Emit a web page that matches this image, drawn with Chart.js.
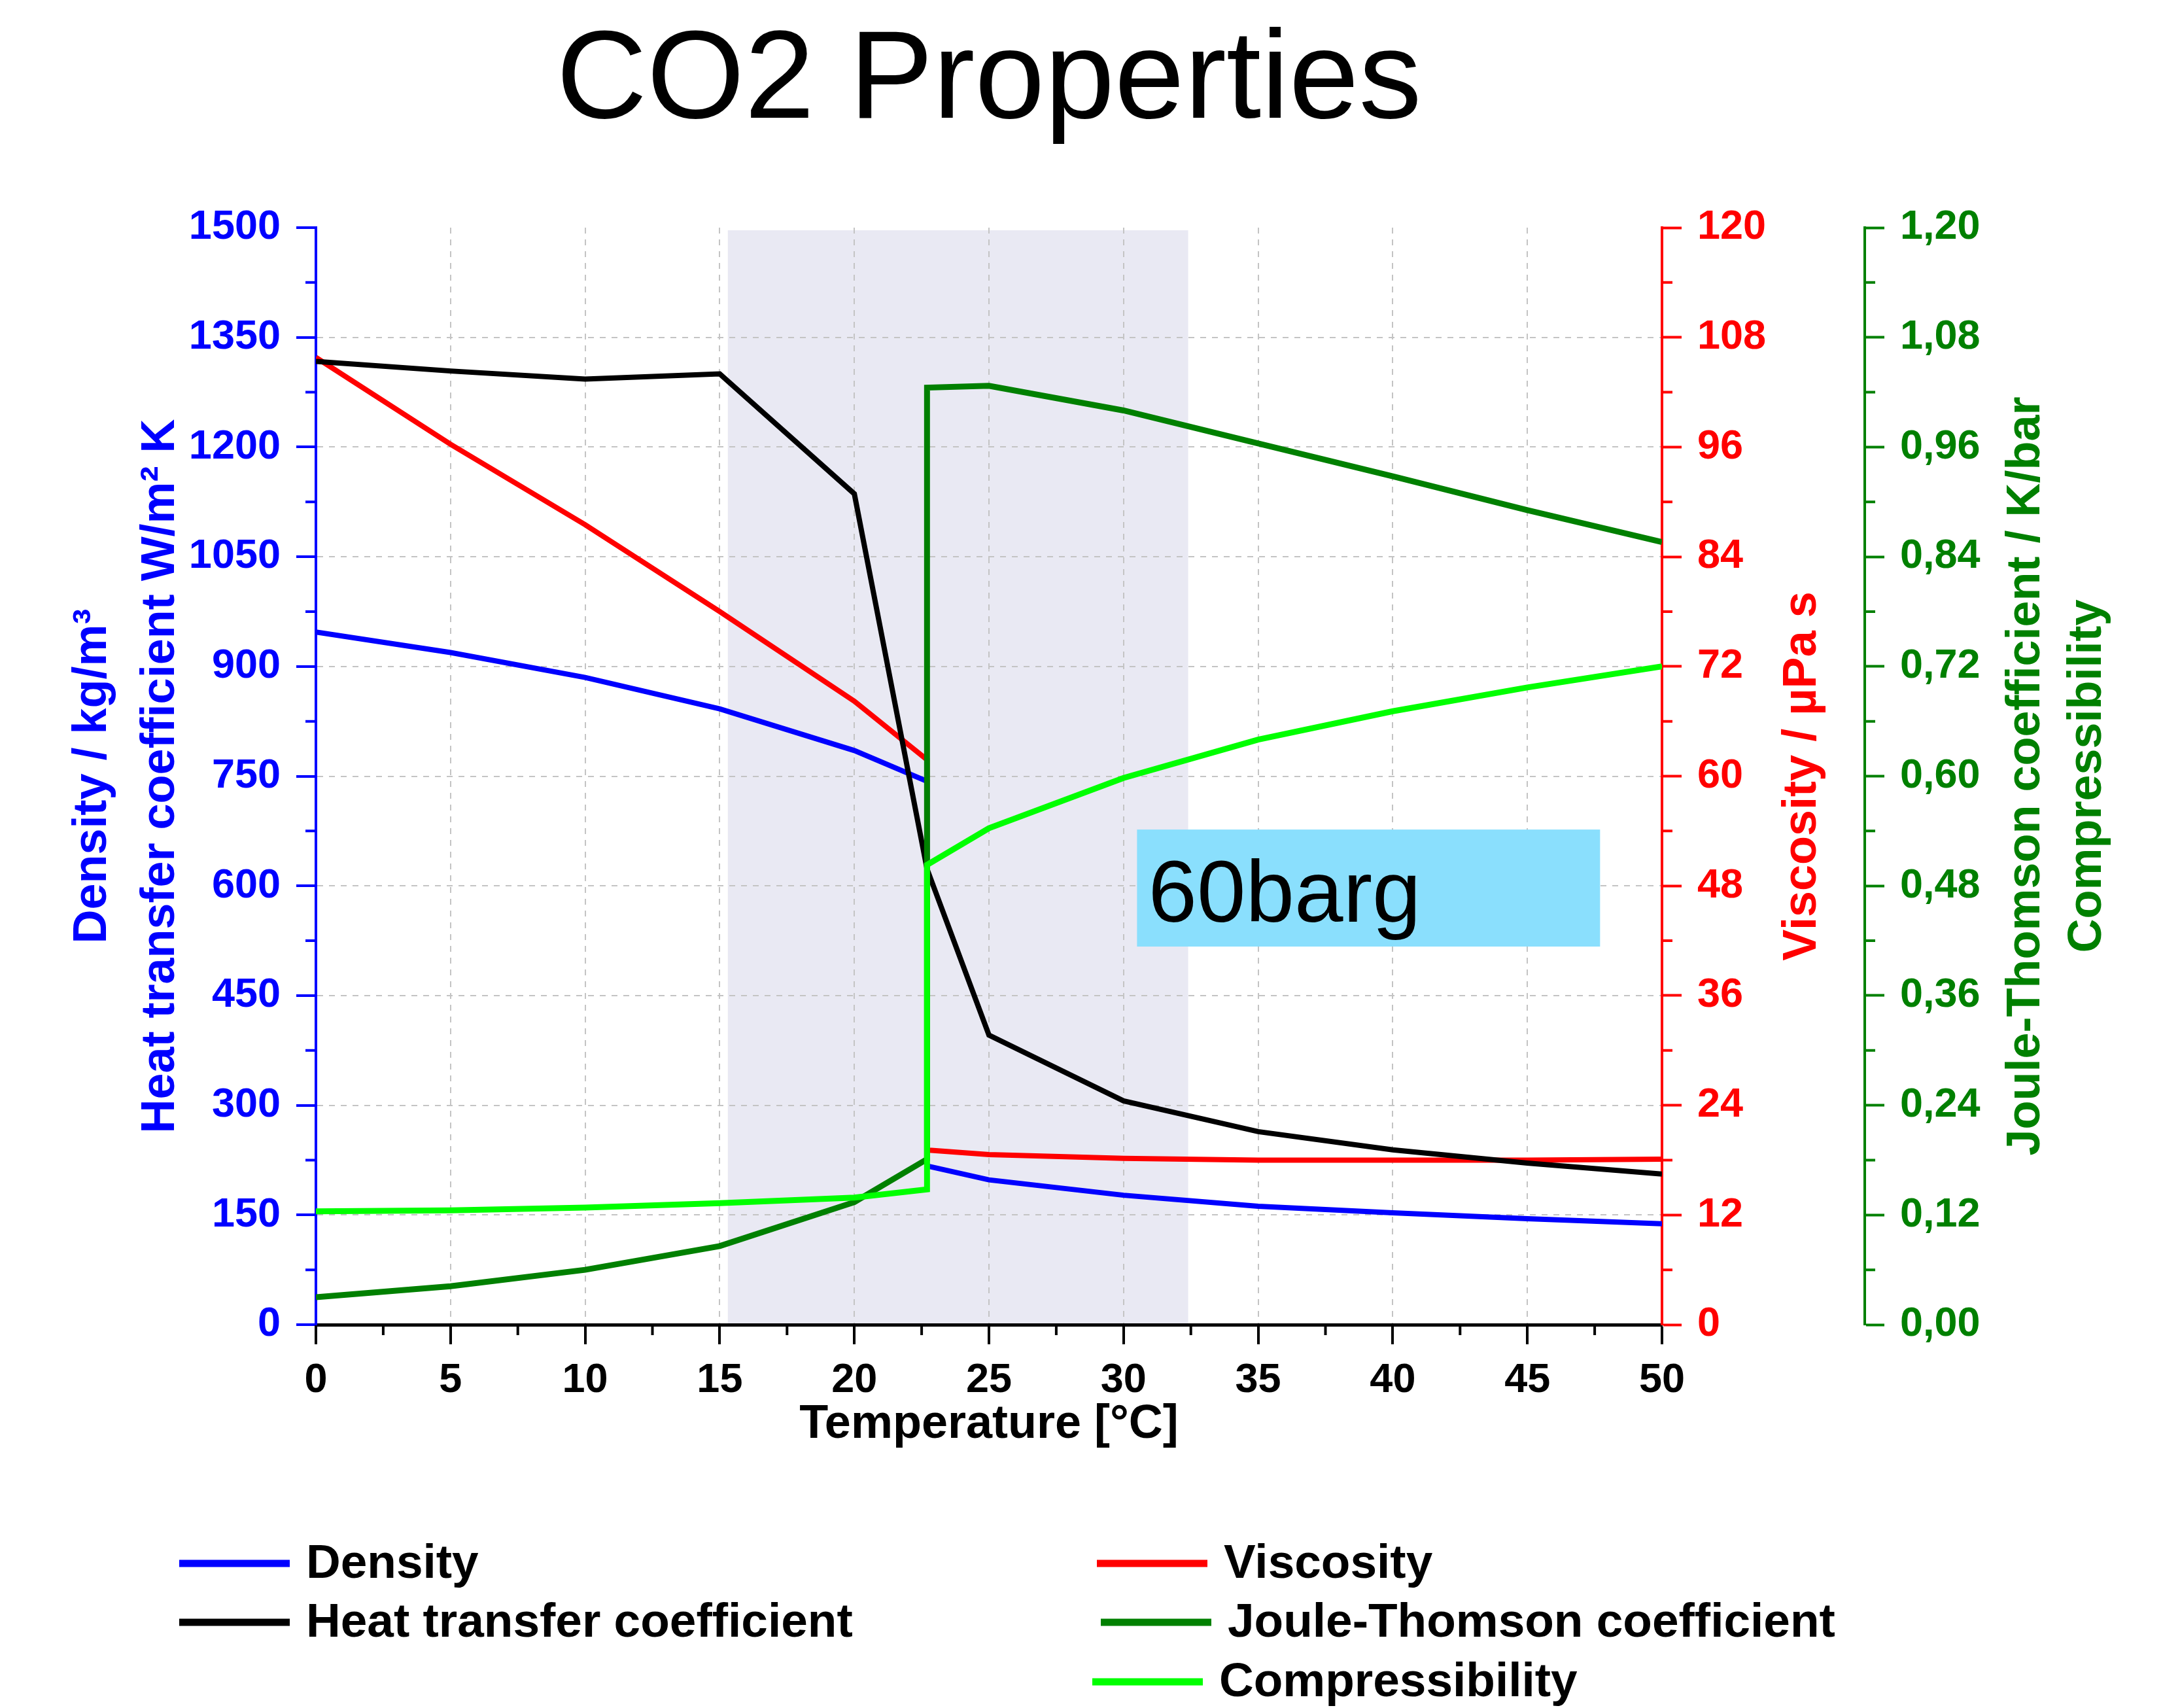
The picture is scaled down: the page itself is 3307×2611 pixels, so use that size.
<!DOCTYPE html>
<html>
<head>
<meta charset="utf-8">
<title>CO2 Properties</title>
<script src="https://cdn.jsdelivr.net/npm/chart.js@4.4.1/dist/chart.umd.min.js"></script>
<style>
  html, body { margin: 0; padding: 0; background: #fff; }
  #wrap { width: 3307px; height: 2611px; position: relative; }
</style>
</head>
<body>
<div id="wrap"><canvas id="co2Chart"></canvas></div>
<script>
// temperatures in °C; 22.7 appears twice for the liquid/vapour jump
const temperature = [0, 5, 10, 15, 20, 22.7, 22.7, 25, 30, 35, 40, 45, 50];
const density = [947, 919, 885, 842, 785, 743, 217, 198, 177, 162, 153, 145, 138];
const heatTransfer = [1317, 1304, 1293, 1300, 1136, 623, 623, 396, 306, 264, 239, 221, 206];
const viscosity = [105.8, 96.3, 87.5, 78.0, 68.2, 61.8, 19.1, 18.6, 18.2, 18.0, 18.0, 18.0, 18.1];
const jouleThomson = [0.030, 0.042, 0.060, 0.086, 0.134, 0.181, 1.025, 1.027, 1.000, 0.964, 0.928, 0.891, 0.856];
const compressibility = [0.124, 0.125, 0.128, 0.133, 0.139, 0.148, 0.503, 0.543, 0.598, 0.640, 0.671, 0.697, 0.720];

// shaded temperature band and the pressure note box
const shadeRange = [15.3, 32.4];
const noteBox = { x: [30.5, 47.7], y: [517, 677], text: '60barg' };

const FONT = '"Liberation Sans", Arial, Helvetica, sans-serif';
const BLUE = '#0000FF', RED = '#FF0000', GREEN = '#008000', LIME = '#00FF00';

const toPoints = (ys) => temperature.map((t, i) => ({ x: t, y: ys[i] }));

function minorValues(min, max, step) {
    const out = [];
    for (let v = min + step / 2; v < max; v += step) out.push(v);
    return out;
}

const overlay = {
    id: 'overlay',
    beforeDraw(chart) {
        const { ctx, chartArea, scales } = chart;
        const x1 = scales.x.getPixelForValue(shadeRange[0]);
        const x2 = scales.x.getPixelForValue(shadeRange[1]);
        ctx.save();
        ctx.fillStyle = '#E9E9F3';
        ctx.fillRect(x1, chartArea.top + 4, x2 - x1, chartArea.bottom - chartArea.top - 4);
        ctx.restore();
    },
    beforeDatasetsDraw(chart) {
        const { ctx, scales } = chart;
        const bx1 = scales.x.getPixelForValue(noteBox.x[0]);
        const bx2 = scales.x.getPixelForValue(noteBox.x[1]);
        const by1 = scales.y.getPixelForValue(noteBox.y[1]);
        const by2 = scales.y.getPixelForValue(noteBox.y[0]);
        ctx.save();
        ctx.fillStyle = '#8ADFFD';
        ctx.fillRect(bx1, by1, bx2 - bx1, by2 - by1);
        ctx.fillStyle = '#000';
        ctx.font = '134px ' + FONT;
        ctx.textAlign = 'left';
        ctx.textBaseline = 'alphabetic';
        ctx.fillText(noteBox.text, bx1 + 17, by1 + 141);
        ctx.restore();
    },
    afterDraw(chart) {
        const { ctx, chartArea, scales } = chart;
        const cx = (chartArea.left + chartArea.right) / 2;
        const cy = (chartArea.top + chartArea.bottom) / 2;
        ctx.save();

        // minor ticks
        ctx.lineWidth = 4;
        const minor = (scale, vals, color, side) => {
            ctx.strokeStyle = color;
            ctx.beginPath();
            vals.forEach(v => {
                const p = scale.getPixelForValue(v);
                if (side === 'left') { ctx.moveTo(scale.right - 16, p); ctx.lineTo(scale.right, p); }
                else if (side === 'right') { ctx.moveTo(scale.left, p); ctx.lineTo(scale.left + 16, p); }
                else { ctx.moveTo(p, scale.top); ctx.lineTo(p, scale.top + 16); }
            });
            ctx.stroke();
        };
        minor(scales.x, minorValues(0, 50, 5), '#000', 'bottom');
        minor(scales.y, minorValues(0, 1500, 150), BLUE, 'left');
        minor(scales.y1, minorValues(0, 120, 12), RED, 'right');
        minor(scales.y2, minorValues(0, 1.2, 0.12), GREEN, 'right');

        // title
        ctx.fillStyle = '#000';
        ctx.font = '192px ' + FONT;
        ctx.textAlign = 'center';
        ctx.textBaseline = 'alphabetic';
        ctx.fillText('CO2 Properties', cx, 180);

        // axis titles
        ctx.font = 'bold 72px ' + FONT;
        ctx.textBaseline = 'middle';
        ctx.fillText('Temperature [°C]', cx, 2178);
        const vtitle = (text, x, color) => {
            ctx.save();
            ctx.translate(x, cy);
            ctx.rotate(-Math.PI / 2);
            ctx.fillStyle = color;
            ctx.fillText(text, 0, 0);
            ctx.restore();
        };
        vtitle('Density / kg/m³', 142, BLUE);
        vtitle('Heat transfer coefficient W/m² K', 246, BLUE);
        vtitle('Viscosity / µPa s', 2756, RED);
        vtitle('Joule-Thomson coefficient / K/bar', 3098, GREEN);
        vtitle('Compressibility', 3192, GREEN);

        // legend, two columns
        const spots = [[274, 2390], [1677, 2390], [274, 2480], [1683, 2480], [1670, 2571]];
        ctx.font = 'bold 73px ' + FONT;
        ctx.textAlign = 'left';
        chart.data.datasets.forEach((ds, i) => {
            const [lx, ly] = spots[i];
            ctx.strokeStyle = ds.borderColor;
            ctx.lineWidth = 11;
            ctx.beginPath();
            ctx.moveTo(lx, ly);
            ctx.lineTo(lx + 169, ly);
            ctx.stroke();
            ctx.fillStyle = '#000';
            ctx.fillText(ds.label, lx + 194, ly + 2);
        });
        ctx.restore();
    }
};

const lineDefaults = { pointRadius: 0, borderWidth: 8, tension: 0, fill: false };
const tickFont = { family: FONT, size: 63, weight: 'bold' };

new Chart(document.getElementById('co2Chart'), {
    type: 'line',
    data: {
        datasets: [
            { ...lineDefaults, label: 'Density', data: toPoints(density), borderColor: BLUE, yAxisID: 'y', order: 3 },
            { ...lineDefaults, label: 'Viscosity', data: toPoints(viscosity), borderColor: RED, yAxisID: 'y1', order: 4 },
            { ...lineDefaults, label: 'Heat transfer coefficient', data: toPoints(heatTransfer), borderColor: '#000000', yAxisID: 'y', order: 2 },
            { ...lineDefaults, label: 'Joule-Thomson coefficient', data: toPoints(jouleThomson), borderColor: GREEN, yAxisID: 'y2', order: 1, borderWidth: 9 },
            { ...lineDefaults, label: 'Compressibility', data: toPoints(compressibility), borderColor: LIME, yAxisID: 'y2', order: 0, borderWidth: 9 }
        ]
    },
    options: {
        responsive: true,
        maintainAspectRatio: false,
        devicePixelRatio: 1,
        animation: false,
        layout: { padding: { top: 348, bottom: 406, left: 0, right: 0 } },
        plugins: {
            legend: { display: false },
            title: { display: false },
            tooltip: { enabled: false }
        },
        scales: {
            x: {
                type: 'linear',
                min: 0,
                max: 50,
                afterFit: (s) => { s.height = 180; },
                ticks: { stepSize: 5, color: '#000', padding: 18, font: tickFont, maxRotation: 0, callback: (v) => String(v) },
                grid: { color: (c) => (c.tick && (c.tick.value === 0 || c.tick.value === 50)) ? 'transparent' : '#C4C4C4', lineWidth: 2, tickColor: '#000', tickLength: 30, tickWidth: 4 },
                border: { color: '#000', width: 5, dash: [9, 9] }
            },
            y: {
                position: 'left',
                min: 0,
                max: 1500,
                afterFit: (s) => { s.width = 483; },
                ticks: { stepSize: 150, color: BLUE, padding: 24, font: tickFont, callback: (v) => String(v) },
                grid: { color: (c) => (c.tick && (c.tick.value === 0 || c.tick.value === 1500)) ? 'transparent' : '#C4C4C4', lineWidth: 2, tickColor: BLUE, tickLength: 30, tickWidth: 4 },
                border: { color: BLUE, width: 4, dash: [9, 9] }
            },
            y1: {
                position: 'right',
                min: 0,
                max: 120,
                afterFit: (s) => { s.width = 310; },
                ticks: { stepSize: 12, color: RED, padding: 24, font: tickFont, callback: (v) => String(v) },
                grid: { drawOnChartArea: false, tickColor: RED, tickLength: 30, tickWidth: 4 },
                border: { color: RED, width: 4 }
            },
            y2: {
                position: 'right',
                min: 0,
                max: 1.2,
                afterFit: (s) => { s.width = 456; },
                ticks: {
                    stepSize: 0.12,
                    color: GREEN,
                    padding: 24,
                    font: tickFont,
                    callback: (v) => Number(v).toFixed(2).replace('.', ',')
                },
                grid: { drawOnChartArea: false, tickColor: GREEN, tickLength: 30, tickWidth: 4 },
                border: { color: GREEN, width: 4 }
            }
        }
    },
    plugins: [overlay]
});
</script>
</body>
</html>
